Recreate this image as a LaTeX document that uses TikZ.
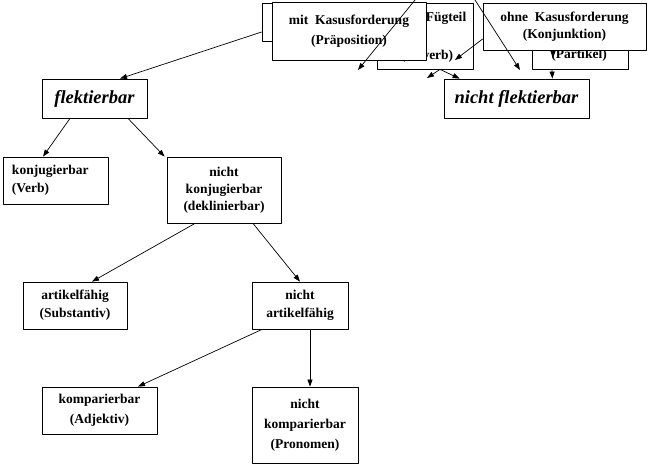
\documentclass[tikz,border=0pt]{standalone}
\usepackage{fontspec}
\setmainfont{Liberation Serif}
\usetikzlibrary{arrows.meta}

\begin{document}
\begin{tikzpicture}[x=1pt,y=-1pt, line cap=round,line join=round,>={Triangle[length=7pt,width=5pt]},
    box/.style={draw, fill=white, line width=0.8pt, inner sep=0pt, align=center,
      font=\fontsize{13.5}{18}\selectfont\bfseries},
    bigbox/.style={box, font=\fontsize{18.5}{22}\selectfont\bfseries\itshape},
    boxtext/.style={inner sep=0pt, font=\fontsize{13.5}{18}\selectfont\bfseries},
    conn/.style={->, line width=0.7pt}]
    \useasboundingbox (0,0) rectangle (649,467);
    % hidden boxes at the top
    \node[box, minimum width=138pt, minimum height=38pt] (root) at (331,22) {};
    \node[box, minimum width=96pt, minimum height=66pt] (fueg) at (425,36) {};
    \node[boxtext] (fuegA) at (446,18) {Fügteil};
    \node[boxtext] (fuegB) at (427,56) {(Adverb)};
    \node[box, minimum width=96pt, minimum height=66pt] (partikel) at (580,36) {};
    \node[boxtext] (partikelA) at (579,55) {(Partikel)};
    \coordinate (topG) at (553,30);
    \coordinate (tipG) at (553,58);
    \draw [conn] (topG) -- (tipG);
    % boxes in front
    \node[box, minimum width=154pt, minimum height=58pt, font=\fontsize{13.5}{20}\selectfont\bfseries] (praep) at (349,31) {mit\ \ Kasusforderung\\(Präposition)};
    \node[box, minimum width=163pt, minimum height=47pt, font=\fontsize{13.5}{17}\selectfont\bfseries] (konj) at (564.5,26.5) {ohne\ \ Kasusforderung\\(Konjunktion)};
    \node[bigbox, minimum width=145pt, minimum height=39pt] (nflekt) at (516.5,98.5) {nicht flektierbar};
    \node[bigbox, minimum width=105pt, minimum height=39pt] (flekt) at (94.5,98.5) {flektierbar};
    \node[box, minimum height=47pt, text width=87pt, inner xsep=9pt, align=left] (konjug) at (55.5,180.5) {konjugierbar\\(Verb)};
    \node[box, minimum width=114pt, minimum height=66pt, font=\fontsize{13.5}{17}\selectfont\bfseries] (deklin) at (224,190) {nicht\\konjugierbar\\(deklinierbar)};
    \node[box, minimum width=104pt, minimum height=47pt] (artikel) at (75,305.5) {artikelfähig\\(Substantiv)};
    \node[box, minimum width=96pt, minimum height=47pt] (nartikel) at (300,305.5) {nicht\\artikelfähig};
    \node[box, minimum width=115pt, minimum height=47pt, font=\fontsize{13.5}{20}\selectfont\bfseries] (kompar) at (99.5,410.5) {komparierbar\\(Adjektiv)};
    \node[box, minimum width=106pt, minimum height=76pt, font=\fontsize{13.5}{20}\selectfont\bfseries] (nkompar) at (305,425) {nicht\\komparierbar\\(Pronomen)};
    % connectors at the top
    \coordinate (topA) at (415,0);
    \coordinate (tipA) at (358,70);
    \coordinate (topB) at (475,0);
    \coordinate (tipB) at (520,70);
    \coordinate (tipC) at (455,60);
    \coordinate (tipD) at (427,78);
    \draw [conn] (topA) -- (tipA);
    \draw [conn] (topB) -- (tipB);
    \draw [conn] ([yshift=-12.5pt]konj.west) -- (tipC);
    \draw [conn] ([xshift=15pt]fueg.south) -- (tipD);
    \draw [conn] ([xshift=15pt]fueg.south) -- ([xshift=16pt]nflekt.north west);
    \draw [conn] ([xshift=-28pt]partikel.south) -- ([xshift=-37pt]nflekt.north east);
    % tree
    \draw [conn] ([yshift=-10pt]root.west) -- ([xshift=25.5pt]flekt.north);
    \draw [conn] ([xshift=-24.5pt]flekt.south) -- ([xshift=-12.5pt]konjug.north);
    \draw [conn] ([xshift=33.5pt]flekt.south) -- ([xshift=-2pt]deklin.north west);
    \draw [conn] ([xshift=-29pt]deklin.south) -- ([xshift=17pt]artikel.north);
    \draw [conn] ([xshift=29pt]deklin.south) -- (nartikel.north);
    \draw [conn] ([xshift=-38pt]nartikel.south) -- ([xshift=38.5pt]kompar.north);
    \draw [conn] ([xshift=10pt]nartikel.south) -- ([xshift=5pt]nkompar.north);
\end{tikzpicture}
\end{document}
